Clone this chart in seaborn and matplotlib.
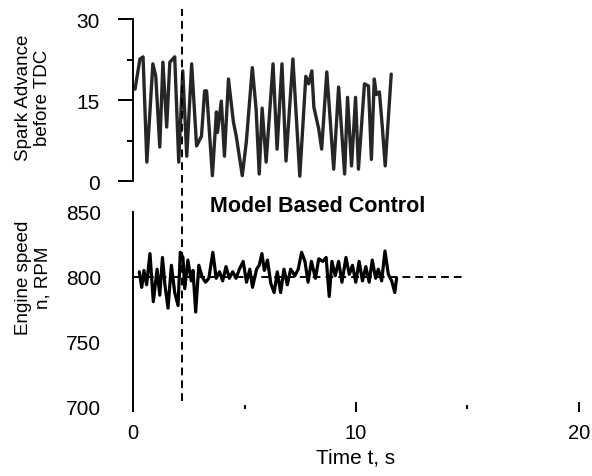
import matplotlib
matplotlib.use("Agg")
import matplotlib.pyplot as plt
import seaborn as sns
import pandas as pd

# spark advance trace (top panel)
spark_t = [0.09, 0.31, 0.45, 0.62, 0.89, 1.02, 1.20, 1.34, 1.51, 1.65, 1.87, 2.05,
           2.23, 2.41, 2.63, 2.85, 3.07, 3.21, 3.30, 3.56, 3.74, 3.79, 3.96, 4.10,
           4.28, 4.50, 4.63, 4.90, 5.08, 5.35, 5.52, 5.66, 5.79, 5.97, 6.28, 6.46,
           6.68, 6.86, 7.17, 7.48, 7.75, 7.88, 8.02, 8.11, 8.33, 8.46, 8.69, 9.00,
           9.22, 9.49, 9.62, 9.80, 9.98, 10.11, 10.38, 10.56, 10.69, 10.82, 10.91,
           11.05, 11.18, 11.31, 11.58]
spark_deg = [17.0, 22.6, 23.0, 3.5, 21.7, 19.4, 6.3, 22.0, 10.0, 22.0, 23.0, 3.5,
             20.4, 4.6, 21.7, 6.5, 8.3, 16.7, 16.7, 1.0, 12.8, 9.0, 14.8, 4.6,
             18.9, 11.0, 8.3, 1.0, 7.2, 21.0, 13.3, 1.3, 13.5, 3.5, 21.7, 5.9,
             21.7, 3.7, 22.6, 0.9, 19.4, 18.0, 20.4, 13.7, 9.6, 5.9, 20.2, 2.2,
             17.4, 1.3, 15.5, 2.8, 15.5, 2.2, 18.0, 17.6, 4.0, 18.9, 16.0,
             16.5, 10.0, 2.8, 19.8]

# engine speed trace (bottom panel)
speed_t = [0.28, 0.39, 0.49, 0.61, 0.76, 0.91, 1.08, 1.20, 1.32, 1.43, 1.57, 1.72,
           1.87, 2.02, 2.12, 2.24, 2.32, 2.46, 2.61, 2.69, 2.81, 2.95, 3.10, 3.25,
           3.40, 3.58, 3.73, 3.88, 4.02, 4.17, 4.32, 4.47, 4.62, 4.77, 4.94, 5.09,
           5.24, 5.36, 5.54, 5.66, 5.78, 5.89, 6.03, 6.18, 6.33, 6.47, 6.62, 6.77,
           6.92, 7.07, 7.26, 7.41, 7.56, 7.71, 7.85, 8.00, 8.18, 8.33, 8.51, 8.66,
           8.80, 8.92, 9.07, 9.22, 9.37, 9.55, 9.70, 9.84, 9.99, 10.14, 10.29, 10.44,
           10.59, 10.73, 10.88, 11.00, 11.15, 11.30, 11.45, 11.60, 11.74, 11.82]
speed_rpm = [804, 792, 805, 794, 818, 781, 806, 786, 815, 794, 776, 809,
             788, 778, 819, 815, 791, 813, 797, 805, 773, 809, 800, 796,
             799, 819, 799, 804, 797, 808, 799, 804, 799, 806, 812, 796,
             806, 792, 806, 809, 818, 805, 813, 795, 788, 804, 788, 806,
             794, 806, 801, 806, 819, 812, 796, 812, 799, 814, 812, 815,
             785, 812, 801, 812, 796, 815, 802, 809, 796, 812, 797, 808,
             796, 813, 799, 806, 797, 820, 802, 797, 788, 799]

event_t = 2.2        # switch-on of model based control
setpoint_rpm = 800
setpoint_end = 14.8

sns.set_style("white")
plt.rcParams["font.family"] = ["Liberation Sans", "DejaVu Sans"]
plt.rcParams["text.color"] = "black"
plt.rcParams["axes.labelcolor"] = "black"
plt.rcParams["xtick.color"] = "black"
plt.rcParams["ytick.color"] = "black"

fig = plt.figure(figsize=(5.92, 4.77), dpi=100)
ax1 = fig.add_axes([0.2247, 0.6184, 0.7533, 0.3396])
ax2 = fig.add_axes([0.2247, 0.1447, 0.7533, 0.4088])

spark = pd.DataFrame({"t": spark_t, "deg": spark_deg})
speed = pd.DataFrame({"t": speed_t, "rpm": speed_rpm})

sns.lineplot(data=spark, x="t", y="deg", ax=ax1, color="#262626", lw=2.4)
sns.lineplot(data=speed, x="t", y="rpm", ax=ax2, color="black", lw=2.3)

dash = (0, (4, 2.6))
ax2.hlines(setpoint_rpm, 0, setpoint_end, colors="black", lw=1.4, linestyles=[dash])
ax2.axvline(event_t, ymin=0.03, ymax=2.04, color="black", lw=1.4, ls=dash, clip_on=False)

# top panel styling
ax1.set_xlim(0, 20)
ax1.set_ylim(0, 30)
for s in ["top", "right", "bottom"]:
    ax1.spines[s].set_visible(False)
ax1.spines["left"].set_linewidth(1.4)
ax1.spines["left"].set_color("black")
ax1.set_xticks([])
ax1.set_yticks([0, 15, 30])
ax1.set_yticks([7.5, 22.5], minor=True)
ax1.tick_params(axis="y", which="major", direction="out", length=11, width=1.4,
                labelsize=15, pad=13, left=True)
ax1.tick_params(axis="y", which="minor", direction="out", length=4.5, width=1.4, left=True)
ax1.set_xlabel("")
ax1.set_ylabel("Spark Advance\nbefore TDC", fontsize=13.5)

# bottom panel styling
ax2.set_xlim(0, 20)
ax2.set_ylim(700, 850)
for s in ["top", "right", "bottom"]:
    ax2.spines[s].set_visible(False)
ax2.spines["left"].set_linewidth(1.4)
ax2.spines["left"].set_color("black")
ax2.set_yticks([700, 750, 800, 850])
ax2.set_yticks([800], minor=True)
ax2.tick_params(axis="y", which="major", length=0, labelsize=15, pad=23, left=True)
ax2.tick_params(axis="y", which="minor", direction="inout", length=6, width=1.4, left=True)
ax2.set_xticks([0, 10, 20])
ax2.set_xticks([5, 15], minor=True)
ax2.tick_params(axis="x", which="major", direction="inout", length=7, width=1.4,
                labelsize=14.5, pad=8, bottom=True)
ax2.tick_params(axis="x", which="minor", direction="inout", length=2.5, width=1.4, bottom=True)
ax2.set_xlabel("Time t, s", fontsize=15, labelpad=4)
ax2.set_ylabel("Engine speed\nn, RPM", fontsize=13.5)

ax2.text(8.3, 855, "Model Based Control", ha="center", va="center",
         fontsize=15.5, fontweight="bold", clip_on=False)

ax1.yaxis.set_label_coords(-0.183, 0.52)
ax2.yaxis.set_label_coords(-0.183, 0.67)

fig.savefig("out.png", dpi=100)
plt.close(fig)
